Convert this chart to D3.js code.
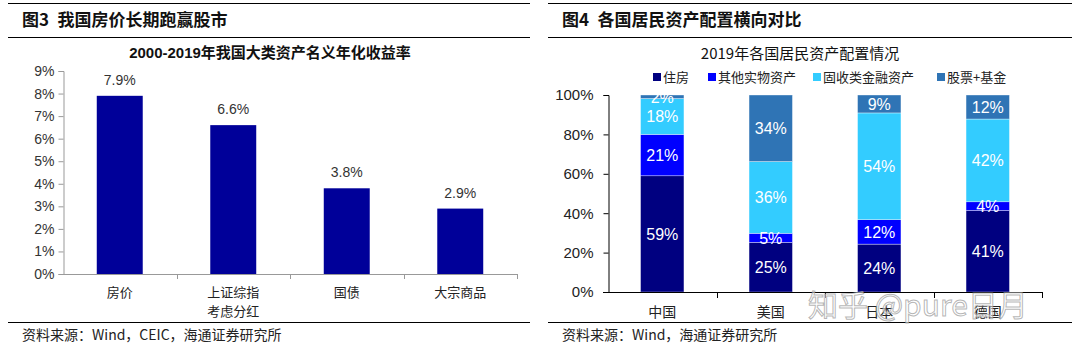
<!DOCTYPE html>
<html>
<head>
<meta charset="utf-8">
<script src="https://cdn.jsdelivr.net/npm/d3@7"></script>
<style>
  html, body { margin: 0; padding: 0; background: #fff; }
  svg { display: block; font-family: "Liberation Sans", Arial, "Noto Sans CJK SC", sans-serif; }
  .cjk { font-family: "Noto Sans CJK SC", "Liberation Sans", sans-serif; }
</style>
</head>
<body>
<svg id="chart" width="1080" height="351"></svg>
<script>
// ---------- Data: left panel ----------
const leftCategories = ["房价", "上证综指\n考虑分红", "国债", "大宗商品"];
const leftValues = [7.9, 6.6, 3.8, 2.9];
const leftTicks = [0, 1, 2, 3, 4, 5, 6, 7, 8, 9];

// ---------- Data: right panel ----------
const rightCategories = ["中国", "美国", "日本", "德国"];
const seriesNames = ["住房", "其他实物资产", "固收类金融资产", "股票+基金"];
const housing    = [59.0, 25.2, 24.3, 41.4];
const otherReal  = [21.0, 4.6, 12.4, 4.4];
const fixedInc   = [18.2, 36.4, 54.2, 42.0];
const equities   = [1.8, 33.8, 9.1, 12.2];
const rightLabels = [
  ["59%", "21%", "18%", "2%"],
  ["25%", "5%", "36%", "34%"],
  ["24%", "12%", "54%", "9%"],
  ["41%", "4%", "42%", "12%"]
];
const rightTicks = [0, 20, 40, 60, 80, 100];
const seriesColors = ["#000080", "#0000FF", "#33CCFF", "#2F74B5"];

const svg = d3.select("#chart");

// ---------- Panel frames ----------
function panelFrame(x0, x1, title, sub, source) {
  svg.append("line").attr("x1", x0).attr("x2", x1).attr("y1", 3.5).attr("y2", 3.5)
    .attr("stroke", "#000").attr("stroke-width", 1);
  svg.append("line").attr("x1", x0).attr("x2", x1).attr("y1", 37.5).attr("y2", 37.5)
    .attr("stroke", "#000").attr("stroke-width", 1);
  svg.append("line").attr("x1", x0).attr("x2", x1).attr("y1", 322.5).attr("y2", 322.5)
    .attr("stroke", "#000").attr("stroke-width", 1);
  svg.append("text").attr("class", "cjk").attr("x", x0 + 14).attr("y", 26)
    .attr("font-size", 17).attr("font-weight", "bold").attr("fill", "#111")
    .text(title + "\u2002" + sub);
  svg.append("text").attr("class", "cjk").attr("x", x0 + 14).attr("y", 340)
    .attr("font-size", 14).attr("fill", "#222").text(source);
}
panelFrame(8, 530, "图3", "我国房价长期跑赢股市", "资料来源：Wind，CEIC，海通证券研究所");
panelFrame(548, 1072, "图4", "各国居民资产配置横向对比", "资料来源：Wind，海通证券研究所");

// ---------- Left chart ----------
{
  const x0 = 63, x1 = 517, yTop = 71, yBot = 274;
  svg.append("text").attr("x", 270).attr("y", 58).attr("text-anchor", "middle")
    .attr("font-size", 15).attr("font-weight", "bold").attr("fill", "#111")
    .text("2000-2019年我国大类资产名义年化收益率");

  const x = d3.scaleBand().domain(leftCategories).range([x0, x1])
    .paddingInner(0.595).paddingOuter(0.2975);
  const xb = d3.scaleBand().domain(leftCategories).range([x0, x1]).padding(0);
  const y = d3.scaleLinear().domain([0, 9]).range([yBot, yTop]);

  const g = svg.append("g");
  // y axis
  const yAxis = d3.axisLeft(y).tickValues(leftTicks).tickFormat(d => d + "%").tickSize(5).tickPadding(4);
  const ya = g.append("g").attr("transform", `translate(${x0 + 0.5},0)`).call(yAxis);
  ya.select(".domain").attr("stroke", "#999");
  ya.selectAll(".tick line").attr("stroke", "#999");
  ya.selectAll(".tick text").attr("font-size", 14).attr("fill", "#333")
    .attr("font-family", "Liberation Sans, Arial, sans-serif");

  // bars
  g.selectAll("rect.bar").data(leftCategories).join("rect")
    .attr("x", d => x(d)).attr("width", x.bandwidth())
    .attr("y", (d, i) => y(leftValues[i])).attr("height", (d, i) => yBot - y(leftValues[i]))
    .attr("fill", "#000099");

  // value labels
  g.selectAll("text.val").data(leftCategories).join("text")
    .attr("x", d => x(d) + x.bandwidth() / 2)
    .attr("y", (d, i) => y(leftValues[i]) - 11)
    .attr("text-anchor", "middle").attr("font-size", 14).attr("fill", "#333")
    .text((d, i) => leftValues[i].toFixed(1) + "%");

  // x axis
  g.append("line").attr("x1", x0).attr("x2", x1).attr("y1", yBot + 0.5).attr("y2", yBot + 0.5)
    .attr("stroke", "#999");
  const bounds = leftCategories.map(c => xb(c)).concat([x1]);
  g.selectAll("line.xt").data(bounds.slice(1)).join("line")
    .attr("x1", d => Math.round(d) + 0.5).attr("x2", d => Math.round(d) + 0.5)
    .attr("y1", yBot).attr("y2", yBot + 5).attr("stroke", "#999");
  leftCategories.forEach(c => {
    const lines = c.split("\n");
    lines.forEach((ln, k) => {
      g.append("text").attr("class", "cjk").attr("x", xb(c) + xb.bandwidth() / 2)
        .attr("y", 297 + k * 19).attr("text-anchor", "middle")
        .attr("font-size", 13).attr("fill", "#222").text(ln);
    });
  });
}

// ---------- Right chart ----------
{
  const x0 = 608, x1 = 1042, yTop = 95, yBot = 292;
  svg.append("text").attr("class", "cjk").attr("x", 800).attr("y", 59).attr("text-anchor", "middle")
    .attr("font-size", 15).attr("fill", "#111").text("2019年各国居民资产配置情况");

  // legend
  const legendX = [653, 708, 813, 937];
  seriesNames.forEach((s, i) => {
    svg.append("rect").attr("x", legendX[i]).attr("y", 73).attr("width", 8).attr("height", 8)
      .attr("fill", seriesColors[i]);
    svg.append("text").attr("class", "cjk").attr("x", legendX[i] + 10).attr("y", 82)
      .attr("font-size", 13).attr("fill", "#222").text(s);
  });

  const x = d3.scaleBand().domain(rightCategories).range([x0, x1])
    .paddingInner(0.6).paddingOuter(0.3);
  const xb = d3.scaleBand().domain(rightCategories).range([x0, x1]).padding(0);
  const y = d3.scaleLinear().domain([0, 100]).range([yBot, yTop]);

  const rows = rightCategories.map((c, i) => {
    const r = { cat: c };
    r[seriesNames[0]] = housing[i];
    r[seriesNames[1]] = otherReal[i];
    r[seriesNames[2]] = fixedInc[i];
    r[seriesNames[3]] = equities[i];
    return r;
  });
  const stacked = d3.stack().keys(seriesNames)(rows);

  svg.append("defs").append("clipPath").attr("id", "plotclip")
    .append("rect").attr("x", x0).attr("y", yTop).attr("width", x1 - x0).attr("height", yBot - yTop + 1);

  const g = svg.append("g");
  const plot = g.append("g").attr("clip-path", "url(#plotclip)");

  stacked.forEach((layer, si) => {
    plot.selectAll(null).data(layer).join("rect")
      .attr("x", d => x(d.data.cat)).attr("width", x.bandwidth())
      .attr("y", d => y(d[1])).attr("height", d => y(d[0]) - y(d[1]))
      .attr("fill", seriesColors[si])
      .attr("stroke", "rgba(255,255,255,0.6)").attr("stroke-width", 0.6);
  });
  stacked.forEach((layer, si) => {
    plot.selectAll(null).data(layer).join("text")
      .attr("x", d => x(d.data.cat) + x.bandwidth() / 2)
      .attr("y", d => (y(d[0]) + y(d[1])) / 2)
      .attr("dy", "0.36em").attr("text-anchor", "middle")
      .attr("font-size", 16).attr("fill", "#fff")
      .text((d, ci) => rightLabels[ci][si]);
  });

  // y axis
  const yAxis = d3.axisLeft(y).tickValues(rightTicks).tickFormat(d => d + "%").tickSize(5).tickPadding(10);
  const ya = g.append("g").attr("transform", `translate(${x0 + 0.5},0)`).call(yAxis);
  ya.select(".domain").attr("stroke", "#000");
  ya.selectAll(".tick line").attr("stroke", "#000");
  ya.selectAll(".tick text").attr("font-size", 15).attr("fill", "#222")
    .attr("font-family", "Liberation Sans, Arial, sans-serif");

  // x axis
  g.append("line").attr("x1", x0 - 5).attr("x2", x1).attr("y1", yBot + 0.5).attr("y2", yBot + 0.5)
    .attr("stroke", "#000");
  const bounds = rightCategories.map(c => xb(c)).concat([x1]);
  g.selectAll("line.xt").data(bounds.slice(1)).join("line")
    .attr("x1", d => Math.round(d) + 0.5).attr("x2", d => Math.round(d) + 0.5)
    .attr("y1", yBot).attr("y2", yBot + 6).attr("stroke", "#000");
  g.selectAll("text.xl").data(rightCategories).join("text")
    .attr("class", "cjk")
    .attr("x", d => xb(d) + xb.bandwidth() / 2).attr("y", 317)
    .attr("text-anchor", "middle").attr("font-size", 14).attr("fill", "#222").text(d => d);
}

// ---------- Watermark ----------
svg.append("text").attr("class", "cjk").attr("x", 808).attr("y", 316)
  .attr("font-size", 30).attr("fill", "rgba(255,255,255,0.55)")
  .attr("stroke", "rgba(150,150,150,0.7)").attr("stroke-width", 1)
  .text("知乎 @pure日月");
</script>
</body>
</html>
